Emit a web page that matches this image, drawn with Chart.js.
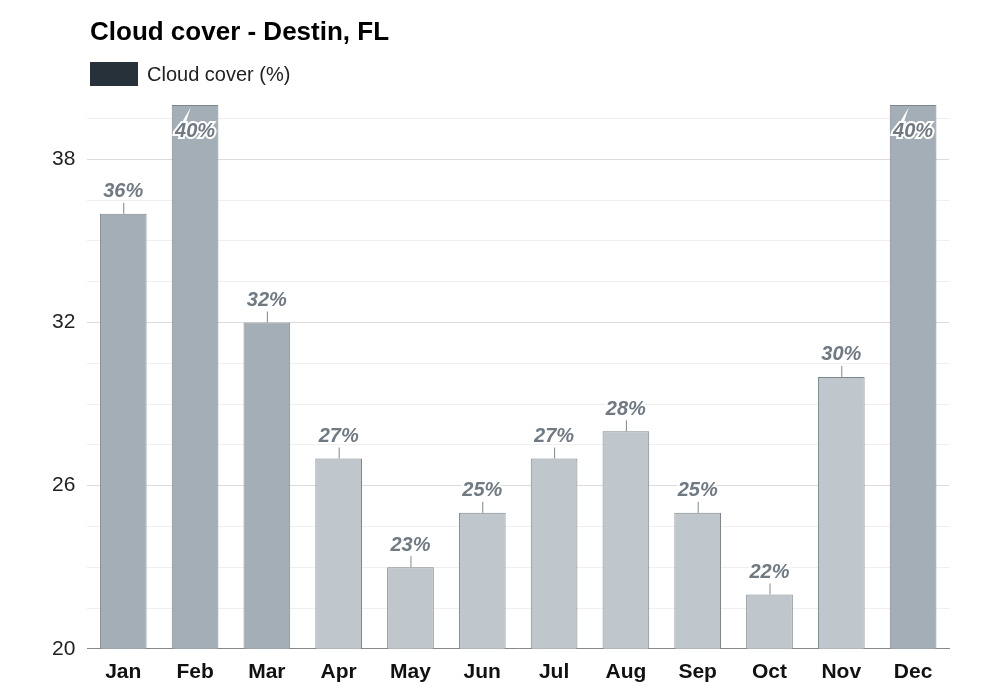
<!DOCTYPE html>
<html><head><meta charset="utf-8">
<script src="https://cdn.jsdelivr.net/npm/chart.js@4"></script>
<style>
body{margin:0;background:#fff;font-family:"Liberation Sans",Arial,sans-serif;}
#wrap{position:relative;width:1000px;height:700px;}
#title{position:absolute;left:90px;top:16px;font-size:26px;font-weight:bold;color:#000;}
#legend{position:absolute;left:90px;top:62px;font-size:20px;color:#222;display:flex;align-items:center;}
#legend span{display:inline-block;width:48px;height:24px;background:#26313a;margin-right:9px;}
canvas{position:absolute;left:0;top:0;}
</style></head>
<body><div id="wrap">
<canvas id="c" width="1000" height="700"></canvas>
<div id="title">Cloud cover - Destin, FL</div>
<div id="legend"><span></span>Cloud cover (%)</div>
</div>
<script>
// DATA
const months = ['Jan','Feb','Mar','Apr','May','Jun','Jul','Aug','Sep','Oct','Nov','Dec'];
const cloudCover = [36, 40, 32, 27, 23, 25, 27, 28, 25, 22, 30, 40];
const yTicks = [20, 22, 24, 26, 28, 30, 32, 34, 36, 38, 40];

const darkMonths = ['Jan','Feb','Mar','Dec'];
const barColors = months.map(m => darkMonths.includes(m) ? '#a4aeb6' : '#bfc6cc');

// value labels above each bar
const labelPlugin = {
  id: 'valueLabels',
  afterDatasetsDraw(chart) {
    const ctx = chart.ctx;
    const meta = chart.getDatasetMeta(0);
    ctx.save();
    ctx.font = 'italic bold 20px "Liberation Sans", Arial, sans-serif';
    ctx.textAlign = 'center';
    ctx.textBaseline = 'bottom';
    meta.data.forEach((bar, i) => {
      const v = cloudCover[i];
      const top = v >= 40;
      const y = top ? bar.y + 36 : bar.y - 12;
      if (!top) {
        ctx.strokeStyle = '#7d868c';
        ctx.lineWidth = 1;
        ctx.beginPath();
        ctx.moveTo(bar.x + 0.5, bar.y);
        ctx.lineTo(bar.x + 0.5, bar.y - 11);
        ctx.stroke();
      }
      ctx.lineWidth = 4;
      ctx.strokeStyle = '#fff';
      ctx.strokeText(v + '%', bar.x, y);
      ctx.fillStyle = '#6f7a83';
      ctx.fillText(v + '%', bar.x, y);
    });
    ctx.restore();
  }
};

new Chart(document.getElementById('c').getContext('2d'), {
  type: 'bar',
  data: {
    labels: months,
    datasets: [{
      label: 'Cloud cover (%)',
      data: cloudCover,
      backgroundColor: barColors,
      borderColor: '#7d868c',
      borderWidth: 1,
      borderSkipped: 'bottom',
      barPercentage: 0.65,
      categoryPercentage: 1
    }]
  },
  options: {
    responsive: false,
    animation: false,
    layout: { padding: { top: 105, right: 51, bottom: 12, left: 40 } },
    plugins: { legend: { display: false }, tooltip: { enabled: false } },
    scales: {
      x: {
        grid: { display: false },
        border: { color: '#888' },
        ticks: { color: '#111', font: { size: 21, weight: 'bold', family: '"Liberation Sans", Arial' } }
      },
      y: {
        min: 20, max: 40,
        afterBuildTicks(axis) {
          const t = [];
          for (let v = 20; v <= 40; v += 0.5) t.push({ value: v });
          axis.ticks = t;
        },
        border: { display: false },
        grid: {
          color: c => yTicks.includes(c.tick.value) ? '#dcdcdc' : '#efefef',
          drawTicks: false
        },
        ticks: {
          padding: 12,
          color: '#222',
          font: { size: 21, family: '"Liberation Sans", Arial' },
          callback: v => yTicks.includes(v) ? v : ''
        }
      }
    }
  },
  plugins: [labelPlugin]
});
</script>
</body></html>
